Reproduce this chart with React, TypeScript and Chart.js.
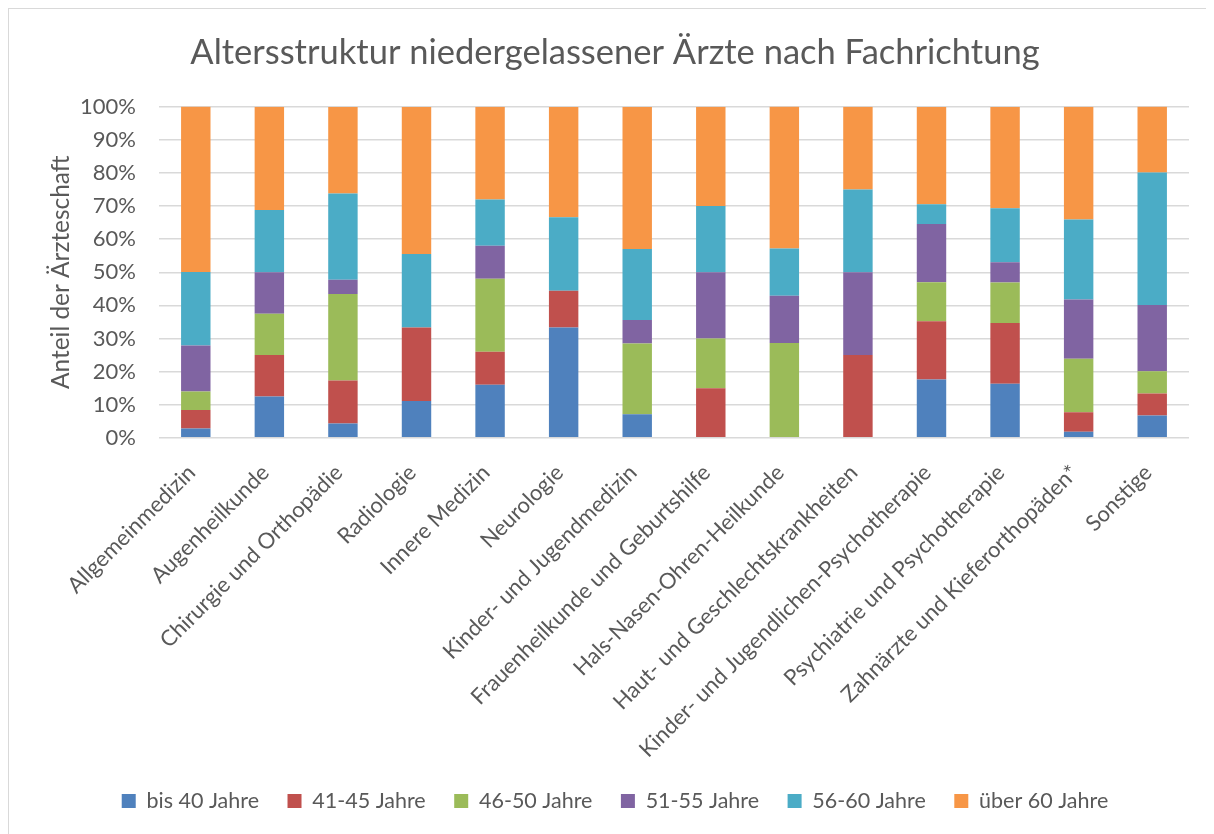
import React, { useEffect, useRef } from "react";
import { Chart, registerables } from "chart.js";

Chart.register(...registerables);

const categories = [
  "Allgemeinmedizin",
  "Augenheilkunde",
  "Chirurgie und Orthopädie",
  "Radiologie",
  "Innere Medizin",
  "Neurologie",
  "Kinder- und Jugendmedizin",
  "Frauenheilkunde und Geburtshilfe",
  "Hals-Nasen-Ohren-Heilkunde",
  "Haut- und Geschlechtskrankheiten",
  "Kinder- und Jugendlichen-Psychotherapie",
  "Psychiatrie und Psychotherapie",
  "Zahnärzte und Kieferorthopäden*",
  "Sonstige",
];

const seriesNames = ["bis 40 Jahre", "41-45 Jahre", "46-50 Jahre", "51-55 Jahre", "56-60 Jahre", "über 60 Jahre"];

const bis40 = [2.8, 12.5, 4.3, 11.1, 16, 33.3, 7.1, 0, 0, 0, 17.6, 16.3, 1.8, 6.7];
const j41_45 = [5.6, 12.5, 13.0, 22.2, 10, 11.1, 0, 15, 0, 25, 17.6, 18.4, 5.9, 6.7];
const j46_50 = [5.6, 12.5, 26.1, 0, 22, 0, 21.4, 15, 28.6, 0, 11.8, 12.2, 16.2, 6.7];
const j51_55 = [13.9, 12.5, 4.3, 0, 10, 0, 7.1, 20, 14.3, 25, 17.6, 6.1, 17.9, 20];
const j56_60 = [22.2, 18.8, 26.1, 22.2, 14, 22.2, 21.4, 20, 14.3, 25, 5.9, 16.3, 24.1, 40];
const ueber60 = [50, 31.2, 26.1, 44.4, 28, 33.3, 42.9, 30, 42.9, 25, 29.4, 30.6, 34.1, 20];

const seriesValues = [bis40, j41_45, j46_50, j51_55, j56_60, ueber60];
const colors = ["#4F81BD", "#C0504D", "#9BBB59", "#8064A2", "#4BACC6", "#F79646"];

const FONT = "Lato, 'Open Sans', sans-serif";
const TEXT = "#595959";

export default function App() {
  const ref = useRef<HTMLCanvasElement | null>(null);

  useEffect(() => {
    document.documentElement.style.overflow = "hidden";
    document.body.style.overflow = "hidden";
    if (!ref.current) return;
    const chart = new Chart(ref.current, {
      type: "bar",
      data: {
        labels: categories,
        datasets: seriesNames.map((name, i) => ({
          label: name,
          data: seriesValues[i],
          backgroundColor: colors[i],
          borderWidth: 0,
          barPercentage: 0.4,
          categoryPercentage: 1.0,
          yAxisID: "y",
        })),
      },
      options: {
        animation: false,
        responsive: false,
        maintainAspectRatio: false,
        layout: { padding: { left: 0, right: 0, top: 0, bottom: 12.25 } },
        plugins: {
          title: {
            display: true,
            text: "Altersstruktur niedergelassener Ärzte nach Fachrichtung",
            color: TEXT,
            font: { family: FONT, size: 34.5, weight: "normal", lineHeight: 1.2 },
            padding: { top: 23.3, bottom: 33 },
          },
          legend: {
            position: "bottom",
            labels: {
              color: TEXT,
              font: { family: FONT, size: 21.5 },
              boxWidth: 14,
              boxHeight: 14,
              padding: 28.5,
            },
          },
          tooltip: { enabled: false },
        },
        scales: {
          x: {
            stacked: true,
            grid: { display: false },
            border: { display: false },
            ticks: {
              color: TEXT,
              font: { family: FONT, size: 22 },
              maxRotation: 45,
              minRotation: 45,
              autoSkip: false,
              padding: 14,
              labelOffset: -4,
            },
            afterFit: (scale: any) => {
              scale.height = 323.95;
            },
          },
          y: {
            stacked: true,
            min: 0,
            max: 100,
            border: { display: false },
            grid: { color: "#d9d9d9", lineWidth: 1.5, drawTicks: false },
            ticks: {
              stepSize: 10,
              color: TEXT,
              padding: 23,
              font: { family: FONT, size: 22 },
              callback: (v: any) => v + "%",
            },
            title: {
              display: true,
              text: "Anteil der Ärzteschaft",
              color: TEXT,
              font: { family: FONT, size: 24.4, lineHeight: 1.2 },
              padding: { top: 37.4, bottom: 0 },
            },
            afterFit: (scale: any) => {
              scale.width = 150;
            },
          },
          yRight: {
            position: "right",
            display: true,
            grid: { display: false, drawTicks: false },
            border: { display: false },
            ticks: { display: false },
            afterFit: (scale: any) => {
              scale.width = 32;
            },
          },
        },
      },
    });
    return () => chart.destroy();
  }, []);

  return (
    <div
      style={{
        width: 1213,
        height: 826,
        boxSizing: "border-box",
        borderTop: "1px solid #d9d9d9",
        borderLeft: "1px solid #d9d9d9",
        background: "#fff",
      }}
    >
      <canvas ref={ref} width={1212} height={825} style={{ display: "block" }} />
    </div>
  );
}
